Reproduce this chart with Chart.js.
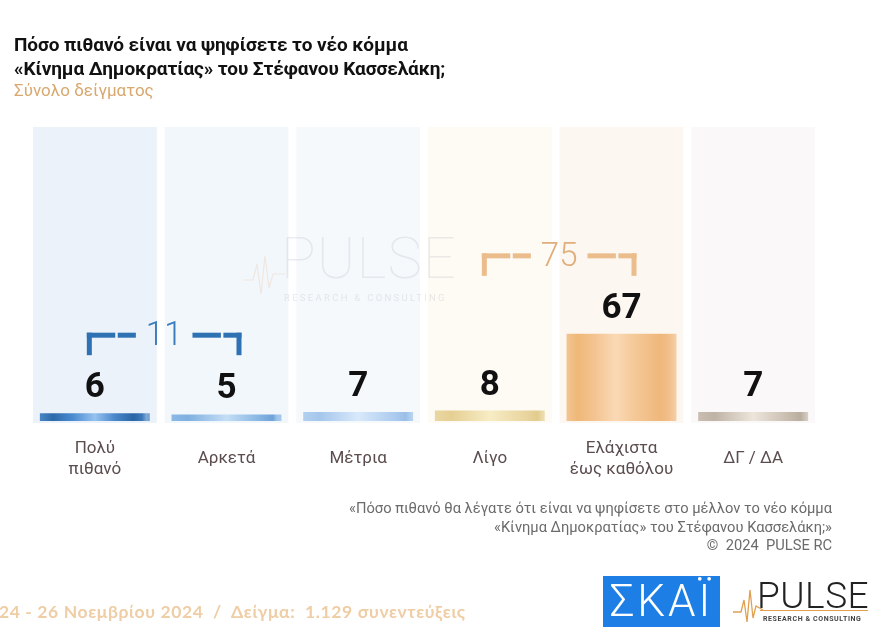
<!DOCTYPE html>
<html lang="el">
<head>
<meta charset="utf-8">
<title>Κίνημα Δημοκρατίας</title>
<script src="https://cdn.jsdelivr.net/npm/chart.js@4.4.1/dist/chart.umd.min.js"></script>
<style>
  body { margin: 0; background: #fff; }
  #page { position: relative; width: 874px; height: 640px; overflow: hidden; font-family: Roboto, "Noto Sans", sans-serif; }
  #myChart { position: absolute; left: 0; top: 0; }
  .abs { position: absolute; white-space: nowrap; }
  #title { left: 14px; top: 33px; font-size: 19px; font-weight: 700; line-height: 24px; color: #111; letter-spacing: -0.1px; }
  #subtitle { left: 14px; top: 79px; font-size: 17px; line-height: 22px; color: #d8a86f; }
  #note { right: 42px; top: 499px; font-size: 14.7px; line-height: 18.5px; color: #6b6b6b; text-align: right; }
  #dates { left: -1px; top: 601px; font-family: Lato, "Open Sans", sans-serif; font-weight: 700; font-size: 17.5px; line-height: 22px; color: #efcda5; letter-spacing: 0.6px; }
  #skai { left: 603px; top: 576px; width: 117px; height: 51px; background: #1d7fe5; color: #fff; font-size: 44px; font-weight: 300; line-height: 51px; text-align: center; letter-spacing: 3px; }
  #pulse { left: 757px; top: 574px; font-size: 37px; font-weight: 300; color: #222; letter-spacing: 0.5px; }
  #pulseLine { left: 760px; top: 610px; width: 108px; height: 1px; background: #e0a050; }
  #pulseSub { left: 763px; top: 615px; font-size: 7px; letter-spacing: 0.6px; color: #444; font-weight: 700; }
  #wm { left: 281px; top: 224px; font-size: 58px; font-weight: 100; color: rgba(170,172,185,0.22); letter-spacing: 1px; }
  #wmSub { left: 284px; top: 292px; font-size: 9.5px; letter-spacing: 2.3px; color: rgba(170,172,185,0.26); }
</style>
</head>
<body>
<div id="page">
  <canvas id="myChart" width="874" height="640"></canvas>

  <div id="title" class="abs">Πόσο πιθανό είναι να ψηφίσετε το νέο κόμμα<br>«Κίνημα Δημοκρατίας» του Στέφανου Κασσελάκη;</div>
  <div id="subtitle" class="abs">Σύνολο δείγματος</div>

  <div id="wm" class="abs">PULSE</div>
  <div id="wmSub" class="abs">RESEARCH &amp; CONSULTING</div>
  <svg class="abs" style="left:243px;top:250px" width="42" height="50">
    <polyline points="0,30 10,30 14,14 18,44 22,6 26,38 30,24 42,24" fill="none" stroke="rgba(235,190,150,0.28)" stroke-width="1.2"/>
  </svg>

  <div id="note" class="abs">«Πόσο πιθανό θα λέγατε ότι είναι να ψηφίσετε στο μέλλον το νέο κόμμα<br>«Κίνημα Δημοκρατίας» του Στέφανου Κασσελάκη;»<br>©&nbsp; 2024&nbsp; PULSE RC</div>

  <div id="dates" class="abs">24 - 26 Νοεμβρίου 2024&nbsp; /&nbsp; Δείγμα:&nbsp; 1.129 συνεντεύξεις</div>

  <div id="skai" class="abs">ΣΚΑΪ</div>
  <svg class="abs" style="left:733px;top:584px" width="30" height="42">
    <polyline points="0,28 8,28 11,16 14,38 17,6 20,34 23,22 30,26" fill="none" stroke="#e0a050" stroke-width="1.3"/>
  </svg>
  <div id="pulse" class="abs">PULSE</div>
  <div id="pulseLine" class="abs"></div>
  <div id="pulseSub" class="abs">RESEARCH &amp; CONSULTING</div>
</div>

<script>
'use strict'

const categories = [['Πολύ', 'πιθανό'], 'Αρκετά', 'Μέτρια', 'Λίγο', ['Ελάχιστα', 'έως καθόλου'], 'ΔΓ / ΔΑ'];
const values = [6, 5, 7, 8, 67, 7];

// grouped totals shown with brackets
const groupFrom = [0, 3];
const groupTo = [1, 4];
const groupTotals = [11, 75];
const groupColors = ['#2f72b3', '#ecbd8c'];
const groupTextColors = ['#3b7cbc', '#e0ae7c'];

const columnColors = ['#ecf2fa', '#f2f7fc', '#f5f9fc', '#fefaf4', '#fdf7f1', '#faf8f8'];
const barBase = ['#3e7dc0', '#8cb8e4', '#b2d0f0', '#e9d7a2', '#f2c594', '#c9beb2'];
const barStops = [
  [[0, '#4a86c4'], [0.12, '#2c6aab'], [0.3, '#4b8bd0'], [0.5, '#95c2f0'], [0.68, '#4a88cb'], [0.85, '#2a66a6'], [0.93, '#3e78b8'], [0.97, '#7ea9d6'], [1, '#6f9fd2']],
  [[0, '#8cb8e4'], [0.15, '#7fb0e0'], [0.5, '#c4def6'], [0.8, '#86b5e3'], [0.92, '#6fa2d8'], [0.96, '#9fc5ec'], [1, '#a6caee']],
  [[0, '#b2d0f0'], [0.15, '#a5c6ec'], [0.5, '#d8e9fa'], [0.85, '#a9c9ee'], [0.93, '#9bbfe8'], [1, '#bcd6f3']],
  [[0, '#e9d7a2'], [0.15, '#e6cf93'], [0.5, '#f7ecc5'], [0.85, '#e8d39c'], [0.93, '#e2cb8c'], [1, '#efe0b4']],
  [[0, '#f2c594'], [0.1, '#efb878'], [0.25, '#f3c390'], [0.45, '#fad9b5'], [0.6, '#f5ca9a'], [0.85, '#efb77c'], [0.93, '#f1bf89'], [1, '#f6d0a8']],
  [[0, '#c9beb2'], [0.15, '#bfb3a5'], [0.5, '#ede6dc'], [0.85, '#c4b8aa'], [0.93, '#b9ad9f'], [1, '#d8d0c6']],
];

const BAR_PCT = 0.835;
const COL_PCT = 0.94;

function barGradient(ctx) {
  const chart = ctx.chart;
  if (!chart.chartArea || ctx.type !== 'data') return barBase[ctx.dataIndex];
  const xs = chart.scales.x;
  const c = xs.getPixelForTick(ctx.dataIndex);
  const half = (xs.width / categories.length) * BAR_PCT / 2;
  const g = chart.ctx.createLinearGradient(c - half, 0, c + half, 0);
  barStops[ctx.dataIndex].forEach(s => g.addColorStop(s[0], s[1]));
  return g;
}

const backColumns = {
  id: 'backColumns',
  beforeDatasetsDraw(chart) {
    const ctx = chart.ctx;
    const xs = chart.scales.x;
    const area = chart.chartArea;
    const w = (xs.width / categories.length) * COL_PCT;
    ctx.save();
    for (let i = 0; i < categories.length; i++) {
      const c = xs.getPixelForTick(i);
      ctx.fillStyle = columnColors[i];
      ctx.fillRect(c - w / 2, area.top, w, area.bottom - area.top + 2);
    }
    ctx.restore();
  }
};

const valueLabels = {
  id: 'valueLabels',
  afterDatasetsDraw(chart) {
    const ctx = chart.ctx;
    const bars = chart.getDatasetMeta(0).data;
    ctx.save();
    ctx.font = 'bold 35px Roboto';
    ctx.fillStyle = '#111';
    ctx.textAlign = 'center';
    ctx.textBaseline = 'alphabetic';
    bars.forEach((bar, i) => {
      ctx.fillText(String(values[i]), bar.x, bar.y - 16);
    });

    // brackets with totals
    ctx.font = '300 33px Roboto';
    ctx.textBaseline = 'middle';
    for (let g = 0; g < groupTotals.length; g++) {
      const a = bars[groupFrom[g]];
      const b = bars[groupTo[g]];
      let top = Infinity;
      for (let k = groupFrom[g]; k <= groupTo[g]; k++) top = Math.min(top, bars[k].y);
      const bottom = top - 58;
      const lineY = bottom - 20;
      const left = a.x - 8;
      const right = b.x + 15;
      const mid = (left + right) / 2;
      const label = String(groupTotals[g]);
      const tw = ctx.measureText(label).width;
      const segL = mid - tw / 2 - 10;
      const segR = mid + tw / 2 + 10;
      ctx.fillStyle = groupColors[g];
      // left hook
      ctx.fillRect(left, lineY - 2.5, 5, bottom - lineY + 2.5);
      const gl = left + (segL - left) * 0.6;
      ctx.fillRect(left, lineY - 2.5, gl - left - 1, 5);
      ctx.fillRect(gl + 1.5, lineY - 2.5, segL - gl - 1.5, 5);
      // right hook
      ctx.fillRect(right - 5, lineY - 2.5, 5, bottom - lineY + 2.5);
      const gr = segR + (right - segR) * 0.6;
      ctx.fillRect(segR, lineY - 2.5, gr - segR - 1, 5);
      ctx.fillRect(gr + 1.5, lineY - 2.5, right - gr - 1.5, 5);
      ctx.fillStyle = groupTextColors[g];
      ctx.fillText(label, mid, lineY + 2);
    }
    ctx.restore();
  }
};

const chart = new Chart(document.getElementById('myChart').getContext('2d'), {
  type: 'bar',
  data: {
    labels: categories,
    datasets: [{
      data: values,
      backgroundColor: barGradient,
      borderWidth: 0,
      barPercentage: BAR_PCT,
      categoryPercentage: 1
    }]
  },
  options: {
    responsive: false,
    animation: false,
    events: [],
    layout: { padding: { left: 29, right: 55, top: 127, bottom: 139 } },
    plugins: { legend: { display: false }, tooltip: { enabled: false } },
    scales: {
      x: {
        grid: { display: false },
        border: { display: false },
        afterFit(scale) { scale.height = 80; },
        ticks: {
          color: '#5b4d4d',
          font: { family: 'Roboto', size: 17, lineHeight: 1.2 },
          padding: 20,
          crossAlign: 'center',
          maxRotation: 0,
          autoSkip: false
        }
      },
      y: {
        display: false,
        min: 0,
        max: 226
      }
    }
  },
  plugins: [backColumns, valueLabels]
});
</script>
</body>
</html>
